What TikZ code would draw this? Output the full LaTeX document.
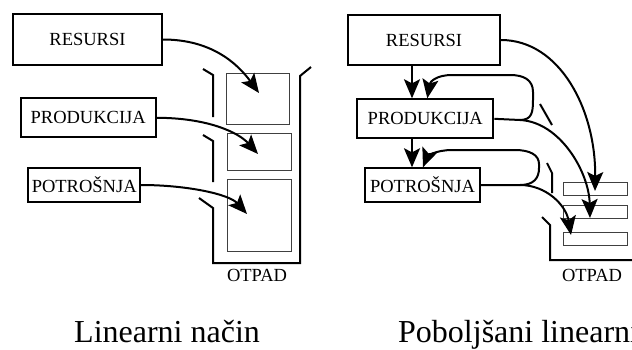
\documentclass[tikz,border=0pt]{standalone}
\usepackage{fontspec}
\setmainfont{Liberation Serif}
\usetikzlibrary{arrows.meta}

\begin{document}
\begin{tikzpicture}[x=1pt, y=-1pt,
  box/.style={draw, line width=2pt, inner sep=0pt, font=\fontsize{18.5}{20}\selectfont},
  wall/.style={draw, line width=2pt},
  slot/.style={draw=black!75, line width=0.9pt},
  flow/.style={line width=2pt, -{Stealth[length=19pt, width=16pt, inset=4pt]}},
  lbl/.style={inner sep=0pt, font=\fontsize{18.5}{20}\selectfont},
  captext/.style={inner sep=0pt, anchor=base west, font=\fontsize{32}{36}\selectfont}]

\useasboundingbox (0,0) rectangle (632,349);
\clip (0,0) rectangle (632,349);

% ---------------- linear model ----------------
\node[box, minimum width=149pt, minimum height=51pt] (res1)  at (87.5,39.5) {RESURSI};
\node[box, minimum width=135pt, minimum height=39pt] (prod1) at (88.2,117.8) {PRODUKCIJA};
\node[box, minimum width=112pt, minimum height=33.4pt] (pot1) at (84.2,185) {POTROŠNJA};

% waste bin with three compartments
\draw[wall] (203,69) -- (213,75) -- (213,117);
\draw[wall] (203,135) -- (213,141) -- (213,182);
\draw[wall] (199,198) -- (213,208) -- (213,263) -- (300,263) -- (300,76) -- (311,67);
\node[slot, minimum width=63pt, minimum height=51pt] (s11) at (257.5,98.5) {};
\node[slot, minimum width=64pt, minimum height=37pt] (s12) at (259,151.5) {};
\node[slot, minimum width=64pt, minimum height=72pt] (s13) at (259,215) {};
\node[lbl] (otpad1) at (257,275) {OTPAD};

\coordinate (t11) at (259,93);
\coordinate (t12) at (258,154);
\coordinate (t13) at (247,214);
\draw[flow] (res1.east)  .. controls +(48,0) and +(-22,-30) .. (t11);
\draw[flow] (prod1.east) .. controls +(50,0) and +(-20,-22) .. (t12);
\draw[flow] (pot1.east)  .. controls +(45,0) and +(-18,-20) .. (t13);

% ---------------- improved linear model ----------------
\node[box, minimum width=152pt, minimum height=50pt] (res2)  at (424,40) {RESURSI};
\node[box, minimum width=136pt, minimum height=39pt] (prod2) at (425.3,118.8) {PRODUKCIJA};
\node[box, minimum width=115pt, minimum height=33.4pt] (pot2) at (422.5,185) {POTROŠNJA};

\draw[flow] (res2.south -| 412,0) -- (prod2.north -| 412,0);
\draw[flow] (prod2.south -| 412,0) -- (pot2.north -| 412,0);

% recycling loops and waste streams
\coordinate (sp1) at (520,120);
\coordinate (sp2) at (520,185);
\draw[flow] (prod2.east) -- (sp1)
  .. controls (532,120) and (533,112) .. (533,100) -- (533,92)
  .. controls (533,80) and (524,75) .. (510,75) -- (452,75)
  .. controls (436,75) and (430,82) .. ([xshift=2pt]prod2.north);
\draw[flow] (pot2.east) -- (sp2)
  .. controls (534,185) and (539,178) .. (539,168) -- (539,164)
  .. controls (539,155) and (530,150) .. (515,150) -- (452,150)
  .. controls (435,150) and (427,157) .. ([xshift=0.5pt]pot2.north);

% right waste bin
\draw[wall] (540,104) -- (552,125);
\draw[wall] (547,163) -- (552,173) -- (552,193);
\draw[wall] (542,217) -- (550,225) -- (550,260) -- (640,260);
\node[slot, minimum width=64pt, minimum height=13pt] (s21) at (595,188.5) {};
\node[slot, minimum width=64pt, minimum height=13pt] (s22) at (595,211.5) {};
\node[slot, minimum width=64pt, minimum height=13pt] (s23) at (595,238.5) {};
\node[lbl] (otpad2) at (592,275) {OTPAD};

\coordinate (t21) at (595,191);
\coordinate (t22) at (590,218);
\coordinate (t23) at (571,235);
\draw[flow] (res2.east) .. controls (560,40) and (596,110) .. (t21);
\draw[flow] (sp1) .. controls (560,122) and (589,172) .. (t22);
\draw[flow] (sp2) .. controls (546,185) and (566,205) .. (t23);

% captions
\node[captext] (cap1) at (74,342) {Linearni način};
\node[captext] (cap2) at (398,342) {Poboljšani linearni};
\end{tikzpicture}
\end{document}
